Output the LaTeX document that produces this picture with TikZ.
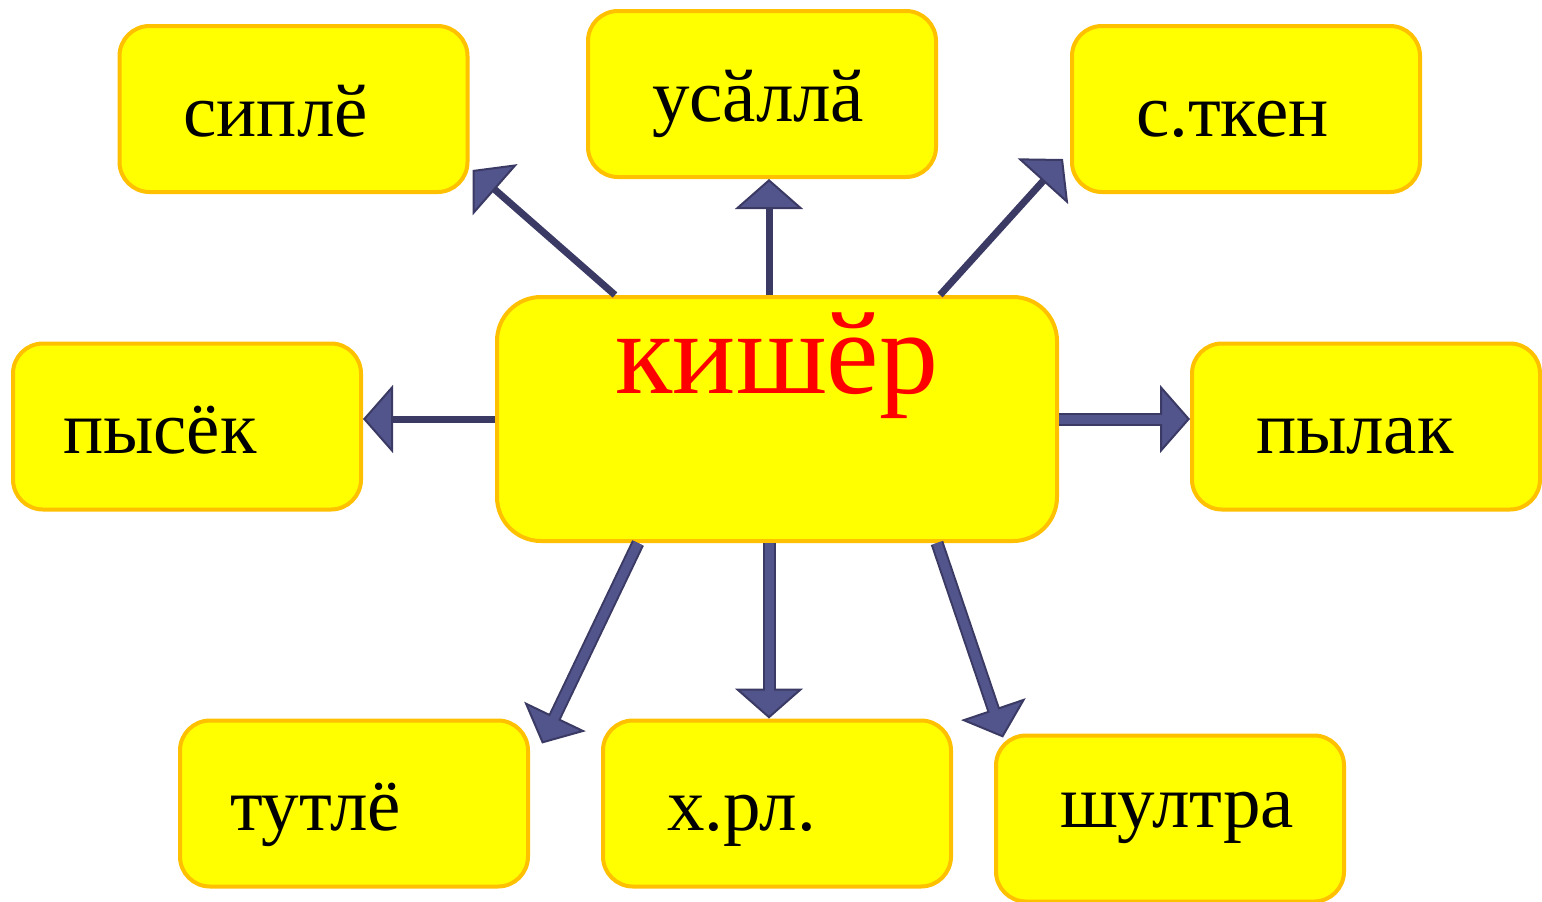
\documentclass[tikz,border=0pt]{standalone}
\usepackage{fontspec}
\setmainfont{Liberation Serif}
\usepackage{xcolor}
\usetikzlibrary{arrows.meta,calc}
\definecolor{boxfill}{RGB}{255,255,0}
\definecolor{boxedge}{RGB}{255,192,0}
\definecolor{arrfill}{RGB}{82,84,140}
\definecolor{arrdark}{RGB}{58,58,100}

\begin{document}
\begin{tikzpicture}[x=0.5pt, y=-0.5pt,
	box/.style={draw=boxedge, fill=boxfill, line width=2pt, rounded corners=15pt, minimum height=83pt, text width=110pt, inner xsep=32pt, inner ysep=0pt, text height=55pt, text depth=28pt, align=left, font=\fontsize{37.5}{40}\selectfont},
	mainbox/.style={draw=boxedge, fill=boxfill, line width=2pt, rounded corners=22pt, minimum width=280pt, minimum height=122pt, inner sep=0pt, text height=48pt, text depth=74pt, text=red, font=\fontsize{59}{62}\selectfont},
	thinarr/.style={draw=arrdark, line width=3.5pt, -{Triangle[length=15pt, width=34pt, line width=1pt, fill=arrfill]}},
	thickarr/.style={draw=arrdark, line width=6.5pt, -{Triangle[length=15pt, width=34pt, line width=1pt, fill=arrfill]}, postaction={draw=arrfill, line width=4.5pt, -, shorten >=13.5pt}}]
\useasboundingbox (0,0) rectangle (1542,901);
%boxes
\node[mainbox] (kisher) at (777,419) {кишӗр};
\node[box] (siple) at (293.5,109) {сиплӗ};
\node[box] (usalla) at (762,94) {усӑллӑ};
\node[box] (stken) at (1246,109) {с.ткен};
\node[box, inner xsep=25pt, text width=124pt] (pysek) at (187,426.5) {пысёк};
\node[box] (pylak) at (1366,426.5) {пылак};
\node[box, inner xsep=25pt, text width=124pt] (tutle) at (354,803.5) {тутлё};
\node[box] (khrl) at (777,803.5) {х.рл.};
\node[box, text height=46pt, text depth=37pt] (shultra) at (1170,818.5) {шултра};
%upper arrows
\draw[thinarr] ($(kisher.north west)+(120,0)$) -- ($(siple.south east)+(3,-24)$);
\draw[thinarr] ($(kisher.north)+(-8,0)$) -- ($(usalla.south)+(7,0)$);
\draw[thinarr] ($(kisher.north east)+(-119,0)$) -- ($(stken.south west)+(-7,-35)$);
\draw[thinarr] (kisher.west) -- (kisher.west -| pysek.east);
%lower arrows
\draw[thickarr] (kisher.east) -- (kisher.east -| pylak.west);
\draw[thickarr] ($(kisher.south west)+(143,0)$) -- ($(tutle.north east)+(12,25)$);
\draw[thickarr] ($(kisher.south)+(-8,0)$) -- ($(khrl.north)+(-8,0)$);
\draw[thickarr] ($(kisher.south east)+(-122,0)$) -- ($(shultra.north west)+(9,4)$);
\end{tikzpicture}
\end{document}
